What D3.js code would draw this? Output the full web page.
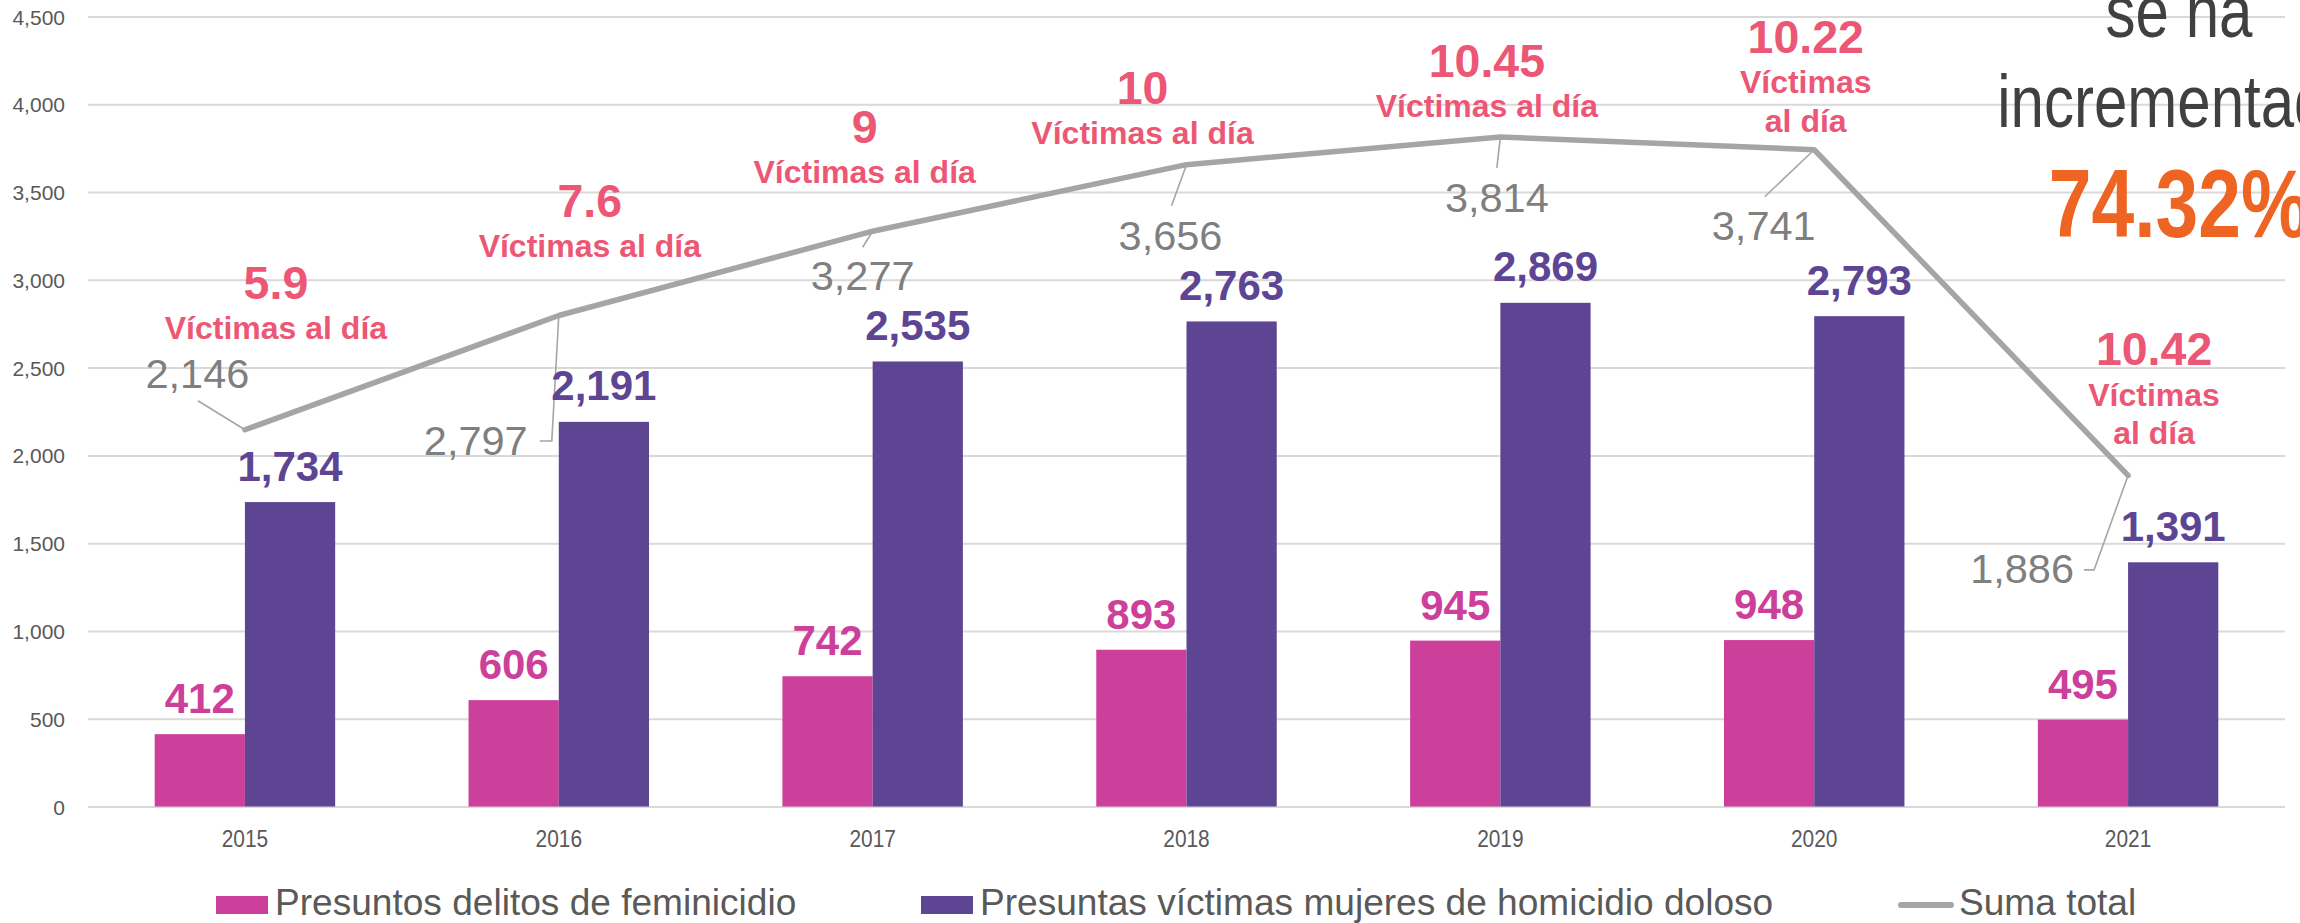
<!DOCTYPE html>
<html><head><meta charset="utf-8">
<script src="https://cdn.jsdelivr.net/npm/d3@7"></script>
<style>
html,body{margin:0;padding:0;background:#fff;overflow:hidden}
svg{display:block}
text{font-family:"Liberation Sans",Arial,sans-serif}
</style></head><body>
<svg id="chart" width="2300" height="923"></svg>
<script>
// ---------- data ----------
const years = ["2015","2016","2017","2018","2019","2020","2021"];
const feminicidio = [412,606,742,893,945,948,495];
const homicidio = [1734,2191,2535,2763,2869,2793,1391];
const sumaTotal = [2146,2797,3277,3656,3814,3741,1886];
const victimasDia = ["5.9","7.6","9","10","10.45","10.22","10.42"];
const yTicks = [0,500,1000,1500,2000,2500,3000,3500,4000,4500];
const seriesNames = ["Presuntos delitos de feminicidio","Presuntas víctimas mujeres de homicidio doloso","Suma total"];
const sideText = ["se ha","incrementado","74.32%"];

// ---------- layout / style (not data) ----------
const W = 2300, H = 923;
const plot = {left: 88, right: 2285, top: 16.5, bottom: 806.5};
const colors = {fem: "#CC3F9A", hom: "#5D4594", line: "#A5A5A5", lineLbl: "#7F7F7F",
  day: "#EC5775", grid: "#D9D9D9", axis: "#595959", side: "#404040", orange: "#EE6422"};
// annotation offsets relative to the line point [dx, dy]
const dayOffsets = [[31,-131],[31,-98.5],[-8,-88],[-44,-61],[-13.5,-60],[-8.5,-97],[26,-110]];
const dayWrap = [false,false,false,false,false,true,true];
const sumOffsets = [[-47.5,-42],[-83,139.5],[-10,59],[-16,85],[-3.5,75],[-50.5,90],[-106,107.5]];
const leaderPts = [
  [[-47,-29],[0,0]],
  [[-19,125.5],[-7,125.5],[0,0]],
  [[-10,16],[0,0]],
  [[-15,41],[0,0]],
  [[-3.5,31],[0,0]],
  [[-49.5,47],[0,0]],
  [[-44,94.5],[-34,94.5],[0,0]]
];

const svg = d3.select("#chart");

const x = d3.scaleBand().domain(years).range([plot.left, plot.right]).paddingInner(0).paddingOuter(0);
const y = d3.scaleLinear().domain([0, 4500]).range([plot.bottom, plot.top]);
const bw = x.bandwidth();
const barW = bw * 0.2875;
const cx = i => x(years[i]) + bw / 2;

// grid + y axis
svg.append("g")
  .attr("transform", `translate(${plot.left},0)`)
  .call(d3.axisLeft(y).tickValues(yTicks).tickSize(-(plot.right - plot.left)).tickPadding(23).tickFormat(d3.format(",")))
  .call(g => g.attr("font-family", null))
  .call(g => g.select(".domain").remove())
  .call(g => g.selectAll(".tick line").attr("stroke", colors.grid).attr("stroke-width", 2))
  .call(g => g.selectAll(".tick text").attr("font-size", 21).attr("fill", colors.axis).attr("dy", "0.357em"));

// x axis
svg.append("g")
  .attr("transform", `translate(0,${plot.bottom})`)
  .call(d3.axisBottom(x).tickSize(0).tickPadding(23.5))
  .call(g => g.attr("font-family", null))
  .call(g => g.select(".domain").remove())
  .call(g => g.selectAll(".tick text").attr("font-size", 24).attr("fill", colors.axis).attr("transform", "scale(0.87,1)"));

// bars
const rows = years.map((yr, i) => ({i, yr, fem: feminicidio[i], hom: homicidio[i], sum: sumaTotal[i], day: victimasDia[i]}));

svg.append("g").selectAll("rect").data(rows).join("rect")
  .attr("x", d => cx(d.i) - barW).attr("width", barW)
  .attr("y", d => y(d.fem)).attr("height", d => y(0) - y(d.fem))
  .attr("fill", colors.fem);
svg.append("g").selectAll("rect").data(rows).join("rect")
  .attr("x", d => cx(d.i)).attr("width", barW)
  .attr("y", d => y(d.hom)).attr("height", d => y(0) - y(d.hom))
  .attr("fill", colors.hom);

// leader lines
svg.append("g").selectAll("path").data(rows).join("path")
  .attr("d", d => d3.line()(leaderPts[d.i].map(p => [cx(d.i) + p[0], y(d.sum) + p[1]])))
  .attr("fill", "none").attr("stroke", colors.line).attr("stroke-width", 1.6);

// total line
svg.append("path").datum(rows)
  .attr("d", d3.line().x(d => cx(d.i)).y(d => y(d.sum)))
  .attr("fill", "none").attr("stroke", colors.line).attr("stroke-width", 5.5)
  .attr("stroke-linejoin", "round").attr("stroke-linecap", "round");

const fmt = d3.format(",");

// bar value labels
svg.append("g").selectAll("text").data(rows).join("text")
  .attr("x", d => cx(d.i) - barW / 2).attr("y", d => y(d.fem) - 21)
  .attr("text-anchor", "middle").attr("font-size", 42).attr("font-weight", "bold")
  .attr("fill", colors.fem).text(d => fmt(d.fem));
svg.append("g").selectAll("text").data(rows).join("text")
  .attr("x", d => cx(d.i) + barW / 2).attr("y", d => y(d.hom) - 21.5)
  .attr("text-anchor", "middle").attr("font-size", 42).attr("font-weight", "bold")
  .attr("fill", colors.hom).text(d => fmt(d.hom));

// total labels
svg.append("g").selectAll("text").data(rows).join("text")
  .attr("x", d => cx(d.i) + sumOffsets[d.i][0]).attr("y", d => y(d.sum) + sumOffsets[d.i][1])
  .attr("text-anchor", "middle").attr("font-size", 41.5)
  .attr("fill", colors.lineLbl).text(d => fmt(d.sum));

// victims-per-day annotations
const dayG = svg.append("g").selectAll("g").data(rows).join("g")
  .attr("transform", d => `translate(${cx(d.i) + dayOffsets[d.i][0]},${y(d.sum) + dayOffsets[d.i][1]})`)
  .attr("fill", colors.day).attr("font-weight", "bold").attr("text-anchor", "middle");
dayG.append("text").attr("font-size", 46.5).text(d => d.day);
dayG.each(function(d) {
  const g = d3.select(this);
  if (dayWrap[d.i]) {
    g.append("text").attr("y", 40.5).attr("font-size", 32).text("Víctimas");
    g.append("text").attr("y", 79).attr("font-size", 32).text("al día");
  } else {
    g.append("text").attr("y", 40).attr("font-size", 32).text("Víctimas al día");
  }
});

// side text
const sideG = svg.append("g").attr("text-anchor", "middle");
[[37, 75, "normal", colors.side], [127, 75, "normal", colors.side], [237, 96, "bold", colors.orange]].forEach((s, k) => {
  sideG.append("text")
    .attr("transform", `translate(2179,${s[0]}) scale(0.8,1)`)
    .attr("font-size", s[1]).attr("font-weight", s[2]).attr("fill", s[3])
    .text(sideText[k]);
});

// legend
const leg = svg.append("g").attr("font-size", 36).attr("fill", colors.axis);
const legX = [216, 921, 1898];
leg.append("rect").attr("x", legX[0]).attr("y", 896).attr("width", 52).attr("height", 18).attr("fill", colors.fem);
leg.append("rect").attr("x", legX[1]).attr("y", 896).attr("width", 52).attr("height", 18).attr("fill", colors.hom);
leg.append("line").attr("x1", legX[2] + 3).attr("x2", legX[2] + 53).attr("y1", 905).attr("y2", 905)
  .attr("stroke", colors.line).attr("stroke-width", 6).attr("stroke-linecap", "round");
[legX[0] + 59, legX[1] + 59, legX[2] + 61].forEach((lx, k) => {
  leg.append("text").attr("transform", `translate(${lx},915) scale(1.03,1)`).text(seriesNames[k]);
});
</script>
</body></html>
